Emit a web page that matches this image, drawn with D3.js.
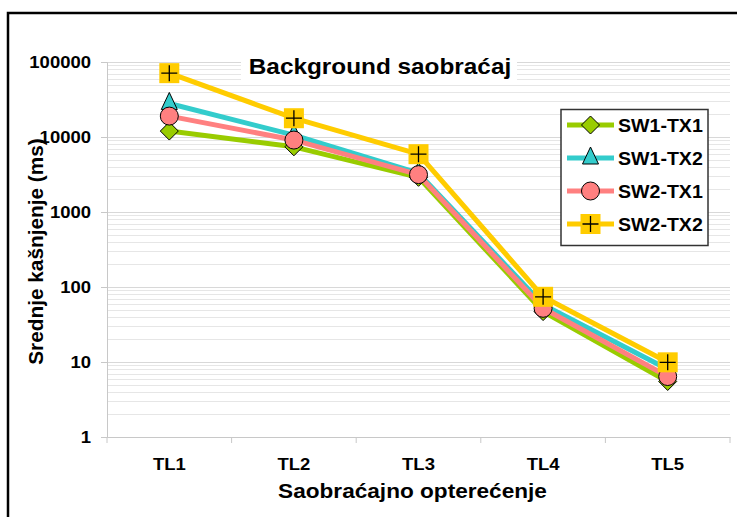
<!DOCTYPE html>
<html><head><meta charset="utf-8">
<script src="https://cdn.jsdelivr.net/npm/d3@7"></script>
<style>body{margin:0;background:#fff}svg{display:block}text{font-family:"Liberation Sans",Arial,sans-serif;font-weight:bold;fill:#000}</style>
</head><body><svg id="c" width="737" height="517"></svg>
<script>
const categories = ["TL1","TL2","TL3","TL4","TL5"];
const seriesNames = ["SW1-TX1","SW1-TX2","SW2-TX1","SW2-TX2"];
const sw1tx1 = [12000, 7400, 2900, 47, 5.5];
const sw1tx2 = [28000, 10600, 3300, 58, 8];
const sw2tx1 = [19000, 9100, 3150, 52, 6.4];
const sw2tx2 = [71000, 17800, 5900, 74, 9.9];
const yTicks = [1,10,100,1000,10000,100000];
const title = "Background saobraćaj";
const xTitle = "Saobraćajno opterećenje";
const yTitle = "Srednje kašnjenje (ms)";

const colors = ["#99cc00","#33cccc","#ff8080","#ffcc00"];
const symbols = ["diamond","triangle","circle","square"];
const values = [sw1tx1, sw1tx2, sw2tx1, sw2tx2];
const STRETCH = 1.087;
function stretch(sel){
  sel.each(function(){ const w=this.getComputedTextLength(); d3.select(this).attr("textLength",w*STRETCH).attr("lengthAdjust","spacingAndGlyphs"); });
}

const svg = d3.select("#c");
const L=107, R=730, T=62, B=437;
const x = d3.scaleBand().domain(categories).range([L,R]);
const y = d3.scaleLog().domain([1,100000]).range([B,T]);

// frame
svg.append("path").attr("d","M8,520 L8,13 L740,13").attr("fill","none").attr("stroke","#000").attr("stroke-width",2.5);

// gridlines (major + minor)
const grid = [];
for (let d=0; d<5; d++) for (let m=1; m<10; m++) grid.push(m*Math.pow(10,d));
grid.push(100000);
svg.append("g").selectAll("line").data(grid).join("line")
  .attr("x1",L).attr("x2",R).attr("y1",d=>Math.round(y(d))+0.5).attr("y2",d=>Math.round(y(d))+0.5)
  .attr("stroke",d=>yTicks.includes(d)?"#d8d8d8":"#e6e6e6").attr("stroke-width",1);

// axes
const ya = svg.append("g").attr("transform",`translate(${L},0)`)
  .call(d3.axisLeft(y).tickValues(yTicks).tickFormat(d3.format("d")).tickSize(6).tickPadding(10));
ya.select(".domain").attr("stroke","#c8c8c8");
ya.selectAll(".tick line").attr("stroke","#c8c8c8");
ya.selectAll(".tick text").style("font-size","17px").style("font-family","Liberation Sans, Arial, sans-serif").style("font-weight","bold").attr("fill","#000").call(stretch);

const xa = svg.append("g").attr("transform",`translate(0,${B})`)
  .call(d3.axisBottom(x).tickSize(0).tickPadding(21));
xa.select(".domain").attr("stroke","#c8c8c8");
xa.selectAll(".tick text").style("font-size","17px").style("font-family","Liberation Sans, Arial, sans-serif").style("font-weight","bold").attr("fill","#000").call(stretch);
// band boundary ticks
const bounds = categories.map(c=>x(c)).concat([R]);
xa.selectAll(".bt").data(bounds).join("line").attr("class","bt")
  .attr("x1",d=>d).attr("x2",d=>d).attr("y1",0).attr("y2",6).attr("stroke","#c8c8c8");

// title with white background
const tg = svg.append("g");
tg.append("rect").attr("x",241).attr("y",54).attr("width",276).attr("height",30).attr("fill","#fff");
tg.append("text").attr("x",380).attr("y",74).attr("text-anchor","middle").style("font-size","22.4px").text(title).call(stretch);

// axis titles
svg.append("text").attr("x",412.5).attr("y",498).attr("text-anchor","middle").style("font-size","20.8px").text(xTitle).call(stretch);
svg.append("text").attr("transform","translate(43,251.5) rotate(-90)").attr("text-anchor","middle").style("font-size","20.8px").text(yTitle);

// markers
function marker(g, i, cx, cy){
  const s = symbols[i];
  if (s==="diamond") g.append("path").attr("d",`M${cx},${cy-9}L${cx+9},${cy}L${cx},${cy+9}L${cx-9},${cy}Z`).attr("fill",colors[i]).attr("stroke","#000").attr("stroke-width",1);
  else if (s==="triangle") g.append("path").attr("d",`M${cx},${cy-11}L${cx+8},${cy+6}L${cx-8},${cy+6}Z`).attr("fill",colors[i]).attr("stroke","#000").attr("stroke-width",1);
  else if (s==="circle") g.append("circle").attr("cx",cx).attr("cy",cy).attr("r",9).attr("fill",colors[i]).attr("stroke","#000").attr("stroke-width",1);
  else {
    g.append("rect").attr("x",cx-10).attr("y",cy-10).attr("width",20).attr("height",20).attr("fill",colors[i]);
    g.append("path").attr("d",`M${cx-8},${cy}L${cx+8},${cy}M${cx},${cy-8}L${cx},${cy+8}`).attr("stroke","#000").attr("stroke-width",1.3);
  }
}

const line = d3.line().x((d,j)=>x(categories[j])+x.bandwidth()/2).y(d=>y(d));
values.forEach((vals,i)=>{
  const g = svg.append("g");
  g.append("path").attr("d",line(vals)).attr("fill","none").attr("stroke",colors[i]).attr("stroke-width",5).attr("stroke-linejoin","round");
  vals.forEach((v,j)=>marker(g,i,x(categories[j])+x.bandwidth()/2,y(v)));
});

// legend
const lg = svg.append("g");
lg.append("rect").attr("x",561).attr("y",109.5).attr("width",147).attr("height",136).attr("fill","#fff").attr("stroke","#333").attr("stroke-width",1.5);
seriesNames.forEach((n,i)=>{
  const cy = 125 + i*33;
  lg.append("line").attr("x1",567).attr("x2",614).attr("y1",cy).attr("y2",cy).attr("stroke",colors[i]).attr("stroke-width",5);
  marker(lg,i,590.5,cy);
  lg.append("text").attr("x",618).attr("y",cy+6.5).style("font-size","18px").text(n).call(stretch);
});
</script></body></html>
